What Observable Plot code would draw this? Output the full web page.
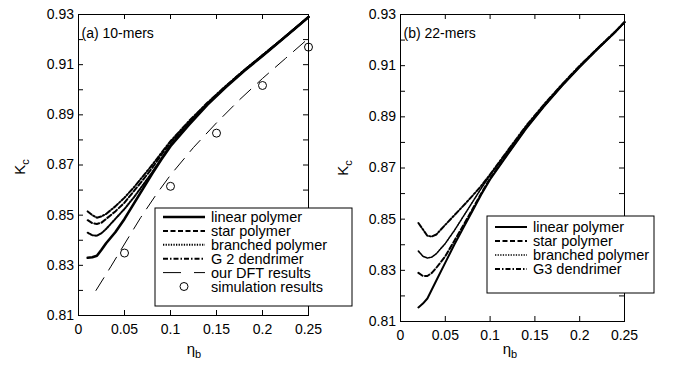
<!DOCTYPE html>
<html><head><meta charset="utf-8">
<script src="https://cdn.jsdelivr.net/npm/d3@7"></script>
<script src="https://cdn.jsdelivr.net/npm/@observablehq/plot@0.6"></script>
<style>
body{margin:0;background:#fff;}
#wrap{position:relative;width:676px;height:369px;overflow:hidden;background:#fff;font-family:Arial,"Liberation Sans",sans-serif;}
#wrap svg{position:absolute;top:0;overflow:visible;background:transparent;}
</style></head><body><div id="wrap"></div>
<script>
// ---- tick values / labels ----
const xTickValues = [0, 0.05, 0.1, 0.15, 0.2, 0.25];
const xTickLabels = ["0", "0.05", "0.1", "0.15", "0.2", "0.25"];
const yTickValues = [0.81, 0.83, 0.85, 0.87, 0.89, 0.91, 0.93];
const yTickLabels = ["0.81", "0.83", "0.85", "0.87", "0.89", "0.91", "0.93"];
const yMinorTicks = [0.81,0.82,0.83,0.84,0.85,0.86,0.87,0.88,0.89,0.90,0.91,0.92,0.93];

// ---- panel (a): 10-mers ----
const xA = [0.01,0.015,0.02,0.025,0.03,0.035,0.04,0.05,0.06,0.07,0.08,0.09,0.10,0.12,0.14,0.16,0.18,0.20,0.22,0.24,0.25];
const linearA   = [0.8330,0.8332,0.8338,0.8362,0.8388,0.8410,0.8432,0.8485,0.8545,0.8605,0.8665,0.8722,0.8775,0.8860,0.8940,0.9010,0.9075,0.9135,0.9196,0.9258,0.9290];
const starA     = [0.8480,0.8468,0.8465,0.8470,0.8485,0.8500,0.8515,0.8550,0.8595,0.8640,0.8688,0.8740,0.8790,0.8870,0.8945,0.9013,0.9077,0.9137,0.9197,0.9259,0.9290];
const branchedA = [0.8430,0.8420,0.8418,0.8428,0.8445,0.8465,0.8485,0.8525,0.8570,0.8620,0.8670,0.8725,0.8780,0.8865,0.8943,0.9012,0.9076,0.9136,0.9197,0.9259,0.9290];
const g2A       = [0.8515,0.8500,0.8490,0.8495,0.8505,0.8520,0.8535,0.8570,0.8610,0.8655,0.8700,0.8748,0.8795,0.8875,0.8948,0.9015,0.9078,0.9138,0.9198,0.9260,0.9290];
const dftX = [0.019,0.035,0.05,0.0675,0.085,0.10,0.125,0.15,0.175,0.20,0.225,0.25];
const dftY = [0.8200,0.8294,0.8385,0.8490,0.8585,0.8660,0.8770,0.8868,0.8960,0.9045,0.9125,0.9205];
const simX = [0.05,0.10,0.15,0.20,0.25];
const simY = [0.8349,0.8615,0.8827,0.9017,0.9170];

// ---- panel (b): 22-mers ----
const xB = [0.02,0.025,0.03,0.035,0.04,0.05,0.06,0.07,0.08,0.09,0.10,0.12,0.14,0.16,0.18,0.20,0.22,0.24,0.25];
const linearB   = [0.8155,0.8170,0.8190,0.8225,0.8260,0.8330,0.8400,0.8465,0.8530,0.8595,0.8655,0.8755,0.8853,0.8940,0.9020,0.9095,0.9165,0.9232,0.9270];
const starB     = [0.8290,0.8278,0.8278,0.8290,0.8310,0.8355,0.8415,0.8475,0.8537,0.8600,0.8660,0.8758,0.8856,0.8942,0.9022,0.9097,0.9166,0.9233,0.9270];
const branchedB = [0.8375,0.8355,0.8348,0.8352,0.8365,0.8405,0.8455,0.8510,0.8565,0.8620,0.8672,0.8765,0.8860,0.8945,0.9024,0.9098,0.9167,0.9234,0.9270];
const g3B       = [0.8485,0.8460,0.8435,0.8432,0.8440,0.8478,0.8515,0.8552,0.8590,0.8630,0.8675,0.8770,0.8864,0.8948,0.9026,0.9100,0.9168,0.9235,0.9270];

// ---- legend labels ----
const legendA = ["linear polymer","star polymer","branched polymer","G 2 dendrimer","our DFT results","simulation results"];
const legendB = ["linear polymer","star polymer","branched polymer","G3 dendrimer"];
const panelTitles = ["(a) 10-mers","(b) 22-mers"];

const rows = (xs, ys) => xs.map((x, i) => ({x, y: ys[i]}));
const FONT = 'Arial, "Liberation Sans", sans-serif';
const XD = [0, 0.25], YD = [0.81, 0.93];

const styles = {
  dashed: "5,2.5",
  dotted: "1.3,1.3",
  dashdot: "5,2,1.5,2",
  longdash: "15,9"
};

// inward MATLAB-style ticks on all four sides (tick length 5 px, converted to data units)
function axes(pxW, pxH) {
  const tx = 5 * (XD[1] - XD[0]) / pxW;
  const ty = 5 * (YD[1] - YD[0]) / pxH;
  const tick = {stroke: "#000", strokeWidth: 1};
  return [
    Plot.ruleX(xTickValues, {x: d => d, y1: YD[0], y2: YD[0] + ty, ...tick}),
    Plot.ruleX(xTickValues, {x: d => d, y1: YD[1], y2: YD[1] - ty, ...tick}),
    Plot.ruleY(yMinorTicks, {y: d => d, x1: XD[0], x2: XD[0] + tx, ...tick}),
    Plot.ruleY(yMinorTicks, {y: d => d, x1: XD[1], x2: XD[1] - tx, ...tick}),
    Plot.axisX(xTickValues, {anchor: "bottom", tickSize: 0, tickPadding: 8.5, tickFormat: (d, i) => xTickLabels[i], label: null, fontSize: 14}),
    Plot.axisY(yTickValues, {anchor: "left", tickSize: 0, tickPadding: 4.5, tickFormat: (d, i) => yTickLabels[i], label: null, fontSize: 14}),
    Plot.frame({stroke: "#000", strokeWidth: 1})
  ];
}

const wrap = document.getElementById("wrap");

const plotA = Plot.plot({
  width: 340, height: 369,
  marginLeft: 78, marginRight: 32, marginTop: 14, marginBottom: 54,
  style: {fontFamily: FONT, fontSize: "14px", background: "transparent", overflow: "visible", color: "#000"},
  x: {domain: XD},
  y: {domain: YD},
  marks: [
    Plot.line(rows(dftX, dftY), {x: "x", y: "y", stroke: "#000", strokeWidth: 1, strokeDasharray: styles.longdash}),
    Plot.dot(rows(simX, simY), {x: "x", y: "y", r: 4, stroke: "#000", fill: "none", strokeWidth: 1}),
    Plot.line(rows(xA, branchedA), {x: "x", y: "y", stroke: "#000", strokeWidth: 2, strokeDasharray: styles.dotted}),
    Plot.line(rows(xA, starA), {x: "x", y: "y", stroke: "#000", strokeWidth: 2, strokeDasharray: styles.dashed}),
    Plot.line(rows(xA, g2A), {x: "x", y: "y", stroke: "#000", strokeWidth: 2, strokeDasharray: styles.dashdot}),
    Plot.line(rows(xA, linearA), {x: "x", y: "y", stroke: "#000", strokeWidth: 2.6}),
    Plot.text([panelTitles[0]], {frameAnchor: "top-left", dx: 3, dy: 14, textAnchor: "start", fontSize: 14, fill: "#000"}),
    ...axes(230, 301)
  ]
});
plotA.style.left = "0px";

const plotB = Plot.plot({
  width: 336, height: 369,
  marginLeft: 60, marginRight: 52, marginTop: 14, marginBottom: 48,
  style: {fontFamily: FONT, fontSize: "14px", background: "transparent", overflow: "visible", color: "#000"},
  x: {domain: XD},
  y: {domain: YD},
  marks: [
    Plot.line(rows(xB, branchedB), {x: "x", y: "y", stroke: "#000", strokeWidth: 1.6, strokeDasharray: styles.dotted}),
    Plot.line(rows(xB, starB), {x: "x", y: "y", stroke: "#000", strokeWidth: 2, strokeDasharray: styles.dashed}),
    Plot.line(rows(xB, g3B), {x: "x", y: "y", stroke: "#000", strokeWidth: 2, strokeDasharray: styles.dashdot}),
    Plot.line(rows(xB, linearB), {x: "x", y: "y", stroke: "#000", strokeWidth: 2}),
    Plot.text([panelTitles[1]], {frameAnchor: "top-left", dx: 3, dy: 14, textAnchor: "start", fontSize: 14, fill: "#000"}),
    ...axes(224, 307)
  ]
});
plotB.style.left = "340px";

wrap.appendChild(plotB);
wrap.appendChild(plotA);

// ---- overlay: axis labels with subscripts and legends ----
const ov = d3.create("svg").attr("width", 676).attr("height", 369)
  .style("left", "0px").style("font-family", FONT);

function kLabel(cx, cy) {
  const t = ov.append("text").attr("transform", `translate(${cx},${cy}) rotate(-90)`)
    .attr("text-anchor", "middle").attr("font-size", 15).attr("fill", "#000");
  t.append("tspan").text("K");
  t.append("tspan").attr("font-size", 11).attr("dy", 4).text("c");
}
function etaLabel(cx, cy) {
  const t = ov.append("text").attr("x", cx).attr("y", cy)
    .attr("text-anchor", "middle").attr("font-size", 15).attr("fill", "#000");
  t.append("tspan").text("η");
  t.append("tspan").attr("font-size", 11).attr("dy", 4).text("b");
}
kLabel(25, 167);
kLabel(348, 168);
etaLabel(194, 354);
etaLabel(510, 354);

function legend(box, items) {
  const g = ov.append("g");
  g.append("rect").attr("x", box.x).attr("y", box.y).attr("width", box.w).attr("height", box.h)
    .attr("fill", "#fff").attr("stroke", "#000").attr("stroke-width", 1);
  items.forEach((it, i) => {
    const y = box.y0 + i * box.dy;
    if (it.type === "circle") {
      g.append("circle").attr("cx", (box.l1 + box.l2) / 2).attr("cy", y).attr("r", 4)
        .attr("fill", "none").attr("stroke", "#000");
    } else {
      const ln = g.append("line").attr("x1", box.l1).attr("x2", box.l2).attr("y1", y).attr("y2", y)
        .attr("stroke", "#000").attr("stroke-width", it.w);
      if (it.dash) ln.attr("stroke-dasharray", it.dash);
    }
    g.append("text").attr("x", box.tx).attr("y", y).attr("dy", "0.35em")
      .attr("font-size", 14.5).attr("fill", "#000").text(it.label);
  });
}
legend({x: 155, y: 208, w: 197, h: 98, y0: 217, dy: 13.9, l1: 163, l2: 205, tx: 211}, [
  {label: legendA[0], w: 2.6, dash: null},
  {label: legendA[1], w: 2, dash: styles.dashed},
  {label: legendA[2], w: 2, dash: styles.dotted},
  {label: legendA[3], w: 2, dash: styles.dashdot},
  {label: legendA[4], w: 1, dash: "18,13"},
  {label: legendA[5], type: "circle"}
]);
legend({x: 487, y: 216, w: 167, h: 77, y0: 227, dy: 14, l1: 495, l2: 527, tx: 533}, [
  {label: legendB[0], w: 2, dash: null},
  {label: legendB[1], w: 2, dash: styles.dashed},
  {label: legendB[2], w: 1.6, dash: styles.dotted},
  {label: legendB[3], w: 2, dash: styles.dashdot}
]);
wrap.appendChild(ov.node());
</script>
</body></html>
